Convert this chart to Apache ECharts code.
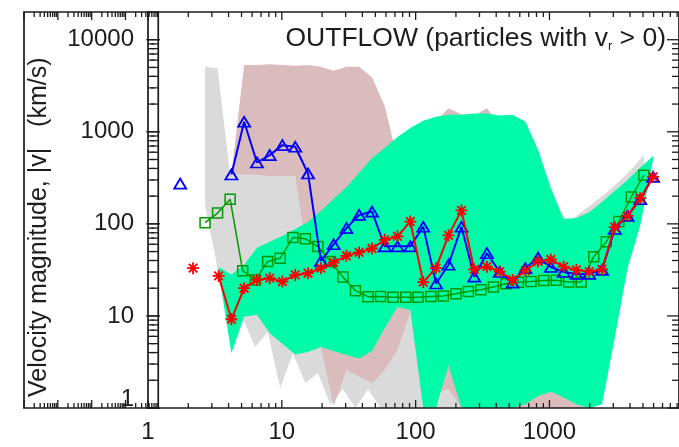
<!DOCTYPE html>
<html>
<head>
<meta charset="utf-8">
<script src="https://cdn.jsdelivr.net/npm/echarts@6/dist/echarts.min.js"></script>
<style>
  html, body { margin: 0; padding: 0; background: #fff; }
  #chart { width: 679px; height: 447px; }
</style>
</head>
<body>
<div id="chart"></div>
<script>
// Radial bins (log spaced) shared by the blue and red medians and their ranges
const binR = [1.74, 2.17, 2.70, 3.37, 4.20, 5.23, 6.52, 8.12, 10.1, 12.6, 15.7, 19.6, 24.4, 30.4, 37.8,
  47.2, 58.8, 73.2, 91.2, 114, 142, 176, 220, 274, 341, 425, 530, 660, 822, 1024, 1276, 1590, 1982,
  2469, 3076, 3833, 4775, 5950];
// Radial bins of the green median and the gray range
const binG = [2.67, 3.31, 4.11, 5.10, 6.32, 7.84, 9.73, 12.1, 15.0, 18.6, 23.1, 28.6, 35.5, 44.1, 54.7,
  67.8, 84.2, 104, 130, 161, 200, 248, 307, 381, 473, 587, 728, 904, 1121, 1391, 1726, 2142, 2657,
  3297, 4091, 5077];

// Median |v| per bin (km/s)
const medianBlue = [274, null, null, null, 344, 1285, 464, 558, 716, 687, 352, 39.5, 60, 90, 125, 136,
  57, 57, 57, 93, 22.5, 36, 93, 26.7, 48, 30, 23, 33, 43, 34, 30, 28.6, 28.6, 31.6, 88, 122, 185, 324];
const medianRed = [null, 33, null, 27.2, 9.2, 20, 24.6, 25.7, 23.6, 27.9, 29.1, 33, 38, 45, 49, 54,
  67, 73, 106, 23.3, 33, 75, 140, 32, 34.3, 30.3, 24.6, 31, 39, 41, 34.3, 31.6, 30.3, 32, 92, 122, 190, 324];
const medianGreen = [103, 131, 185, 31, 24.6, 39, 42.4, 71, 69, 56.7, 39, 26.5, 18.8, 16.2, 16.3, 16,
  16, 16, 16.3, 16.5, 17.4, 18.4, 19.2, 20.6, 22.4, 23.2, 23.6, 24.2, 24.4, 23.4, 23.4, 44, 64, 106, 196, 338];

// Gray range, on binG
const grayUpper = [5100, 4900, 341, 341, 341, 341, 330, 330, 300, 300, 300, 300, 300, 300, 300, 300,
  300, 300, 300, 300, 300, 300, 300, 300, 300, 300, 300, 300, 160, 105, 134, 170, 218, 287, 390, 560];
const grayLower = [160, 33, 15, 9.5, 4.6, 6.7, 1.65, 3.96, 1.87, 2.4, 1.08, 1.6, 1.0, 1.6, 1.0, 1,
  1, 1, 1, 1, 1, 1, 1, 1, 1, 1, 1, 1, 1, 1, 1, 1, 2.6, 15, 67, 234];

// Pink range, on binR[4..32]
const pinkUpper = [344, 5300, 5300, 5400, 5300, 5200, 5300, 5100, 4600, 5100, 5100, 3900, 1900, 500,
  700, 1000, 1300, 1800, 1550, 1500, 1800, 1200, 800, 400, 200, 120, 80, 60, 40];
const pinkLower = [344, 341, 341, 330, 330, 330, 40, 4.6, 1.05, 2.6, 2.2, 1.85, 2.6, 4.3, 11, 100,
  1.5, 1.6, 1, 1, 1, 1, 1, 1, 1, 1, 1, 1, 1];

// Spring-green range, on binR[3..37]
const springUpper = [34, 28, 36, 55, 64, 74, 88, 105, 138, 187, 250, 357, 520, 670, 880, 1100, 1320,
  1460, 1530, 1530, 1580, 1580, 1500, 1530, 1290, 640, 245, 113, 116, 134, 173, 228, 300, 410, 545];
const springLower = [30, 3.93, 9.8, 10.3, 6.5, 5.0, 3.8, 4.06, 4.6, 4.17, 3.77, 3.45, 4.17, 7.4, 12.5,
  11.6, 1, 1, 2.9, 1, 1, 1, 1, 1, 1.1, 1.35, 1.5, 1.3, 1.1, 1, 1.1, 5.8, 33, 97, 500];

// Axis ranges and tick values
const X_MIN = 1, X_MAX = 9290, Y_MIN = 1, Y_MAX = 20000;
const majorX = [1, 10, 100, 1000];
const minorX = [2, 3, 4, 5, 6, 7, 8, 9, 20, 30, 40, 50, 60, 70, 80, 90, 200, 300, 400, 500, 600, 700,
  800, 900, 2000, 3000, 4000, 5000, 6000, 7000, 8000, 9000];
const majorY = [1, 10, 100, 1000, 10000];
const minorY = [2, 3, 4, 5, 6, 7, 8, 9, 20, 30, 40, 50, 60, 70, 80, 90, 200, 300, 400, 500, 600, 700,
  800, 900, 2000, 3000, 4000, 5000, 6000, 7000, 8000, 9000];

const FONT = "'Liberation Sans', Arial, Helvetica, sans-serif";
const INK = '#1c1c1c';

const chart = echarts.init(document.getElementById('chart'), null, { renderer: 'canvas' });

function zip(xs, ys) { return xs.map((x, i) => [x, ys[i] == null ? null : ys[i]]); }

// Filled range between an upper and a lower curve
function bandSeries(xs, up, lo, color, z) {
  return {
    type: 'custom', z, silent: true, xAxisIndex: 0, yAxisIndex: 0,
    data: [[xs[0], up[0]]],
    renderItem(params, api) {
      const pts = [];
      for (let i = 0; i < xs.length; i++) pts.push(api.coord([xs[i], up[i]]));
      for (let i = xs.length - 1; i >= 0; i--) pts.push(api.coord([xs[i], lo[i]]));
      return { type: 'polygon', shape: { points: pts }, style: { fill: color } };
    }
  };
}

// Inward tick marks (major and 2..9 minor) on chosen sides of a panel frame
function tickSeries(gi, sides) {
  const data = [];
  majorX.forEach(v => data.push([v, Y_MIN, 0, 1]));
  minorX.forEach(v => data.push([v, Y_MIN, 0, 0]));
  majorY.forEach(v => data.push([X_MIN, v, 1, 1]));
  minorY.forEach(v => data.push([X_MIN, v, 1, 0]));
  return {
    type: 'custom', z: 30, silent: true, xAxisIndex: gi, yAxisIndex: gi,
    encode: { x: 0, y: 1 },
    data,
    renderItem(params, api) {
      const isY = api.value(2) === 1, major = api.value(3) === 1;
      const st = { stroke: INK, lineWidth: 1.3 };
      const kids = [];
      if (!isY) {
        const v = api.value(0);
        const b = api.coord([v, Y_MIN]), t = api.coord([v, Y_MAX]);
        const L = major ? 8 : 5;
        if (sides.bottom) kids.push({ type: 'line', shape: { x1: b[0], y1: b[1], x2: b[0], y2: b[1] - L }, style: st });
        if (sides.top) kids.push({ type: 'line', shape: { x1: t[0], y1: t[1], x2: t[0], y2: t[1] + L }, style: st });
      } else {
        const v = api.value(1);
        const l = api.coord([X_MIN, v]), r = api.coord([X_MAX, v]);
        if (sides.left) {
          const L = major ? 12 : 6;
          kids.push({ type: 'line', shape: { x1: l[0], y1: l[1], x2: l[0] + L, y2: l[1] }, style: st });
        }
        if (sides.right) {
          const L = major ? 12 : 7;
          kids.push({ type: 'line', shape: { x1: r[0], y1: r[1], x2: r[0] - L, y2: r[1] }, style: st });
        }
      }
      return { type: 'group', children: kids };
    }
  };
}

// Asterisk marker built from four thin bars
const asterisk = 'path://M4.25,0H5.75V10H4.25Z M0,4.25H10V5.75H0Z M0.9,2.0L2.0,0.9L9.1,8.0L8.0,9.1Z M8.0,0.9L9.1,2.0L2.0,9.1L0.9,8.0Z';

const labelBase = { fontSize: 24, fontFamily: FONT, color: INK, showMaxLabel: false };

const option = {
  animation: false,
  backgroundColor: '#fff',
  grid: [
    { left: 148, top: 12, right: -6, bottom: 39, show: true, z: 25, backgroundColor: 'transparent',
      borderColor: INK, borderWidth: 1.7 },
    { left: -513, top: 12, right: 655, bottom: 39, show: true, z: 25, backgroundColor: 'transparent',
      borderColor: INK, borderWidth: 1.7 }
  ],
  xAxis: [
    { type: 'log', gridIndex: 0, min: X_MIN, max: X_MAX, logBase: 10,
      axisLine: { show: false }, axisTick: { show: false }, splitLine: { show: false },
      axisLabel: Object.assign({ margin: 12, formatter: v => String(v) }, labelBase) },
    { type: 'log', gridIndex: 1, min: X_MIN, max: X_MAX,
      axisLine: { show: false }, axisTick: { show: false }, splitLine: { show: false },
      axisLabel: { show: false } }
  ],
  yAxis: [
    { type: 'log', gridIndex: 0, min: Y_MIN, max: Y_MAX, logBase: 10,
      axisLine: { show: false }, axisTick: { show: false }, splitLine: { show: false },
      axisLabel: Object.assign({
        margin: 14,
        // the bottom label sits just above the corner
        formatter: v => (v === Y_MIN ? '{lo|' + v + '}' : String(v)),
        rich: { lo: { fontSize: 24, fontFamily: FONT, color: INK, padding: [0, 0, 18, 0] } }
      }, labelBase) },
    { type: 'log', gridIndex: 1, min: Y_MIN, max: Y_MAX,
      axisLine: { show: false }, axisTick: { show: false }, splitLine: { show: false },
      axisLabel: { show: false } }
  ],
  graphic: [
    {
      type: 'text', x: 666, y: 39, z: 40,
      style: {
        text: '{a|OUTFLOW (particles with v}{s|r}{a| > 0)}',
        align: 'right', verticalAlign: 'middle',
        rich: {
          a: { fontSize: 26.5, fontFamily: FONT, fill: INK },
          s: { fontSize: 13, fontFamily: FONT, fill: INK, verticalAlign: 'bottom' }
        }
      }
    },
    {
      type: 'text', x: 39, y: 397, rotation: Math.PI / 2, z: 40,
      style: {
        text: 'Velocity magnitude, |v|   (km/s)',
        fontSize: 25, fontFamily: FONT, fill: INK,
        align: 'left', verticalAlign: 'middle'
      }
    }
  ],
  series: [
    bandSeries(binG, grayUpper, grayLower, '#dadada', 2),
    bandSeries(binR.slice(4, 33), pinkUpper, pinkLower, '#dbbcbc', 3),
    bandSeries(binR.slice(3), springUpper, springLower, '#00fba8', 4),
    {
      type: 'line', z: 6, data: zip(binG, medianGreen), silent: true,
      symbol: 'rect', symbolSize: 10,
      lineStyle: { color: '#009a00', width: 1.5 },
      itemStyle: { color: 'rgba(0,0,0,0)', borderColor: '#009a00', borderWidth: 1.5 }
    },
    {
      type: 'line', z: 7, data: zip(binR, medianBlue), silent: true,
      symbol: 'triangle', symbolSize: [12, 10],
      lineStyle: { color: '#0000ff', width: 2 },
      itemStyle: { color: 'rgba(0,0,0,0)', borderColor: '#0000ff', borderWidth: 1.8 }
    },
    {
      type: 'line', z: 8, data: zip(binR, medianRed), silent: true,
      symbol: asterisk, symbolSize: 12,
      lineStyle: { color: '#ff0000', width: 2 },
      itemStyle: { color: '#ff0000' }
    },
    tickSeries(0, { bottom: true, top: true, left: true, right: true }),
    tickSeries(1, { bottom: true, top: true, right: true })
  ]
};

chart.setOption(option);
</script>
</body>
</html>
